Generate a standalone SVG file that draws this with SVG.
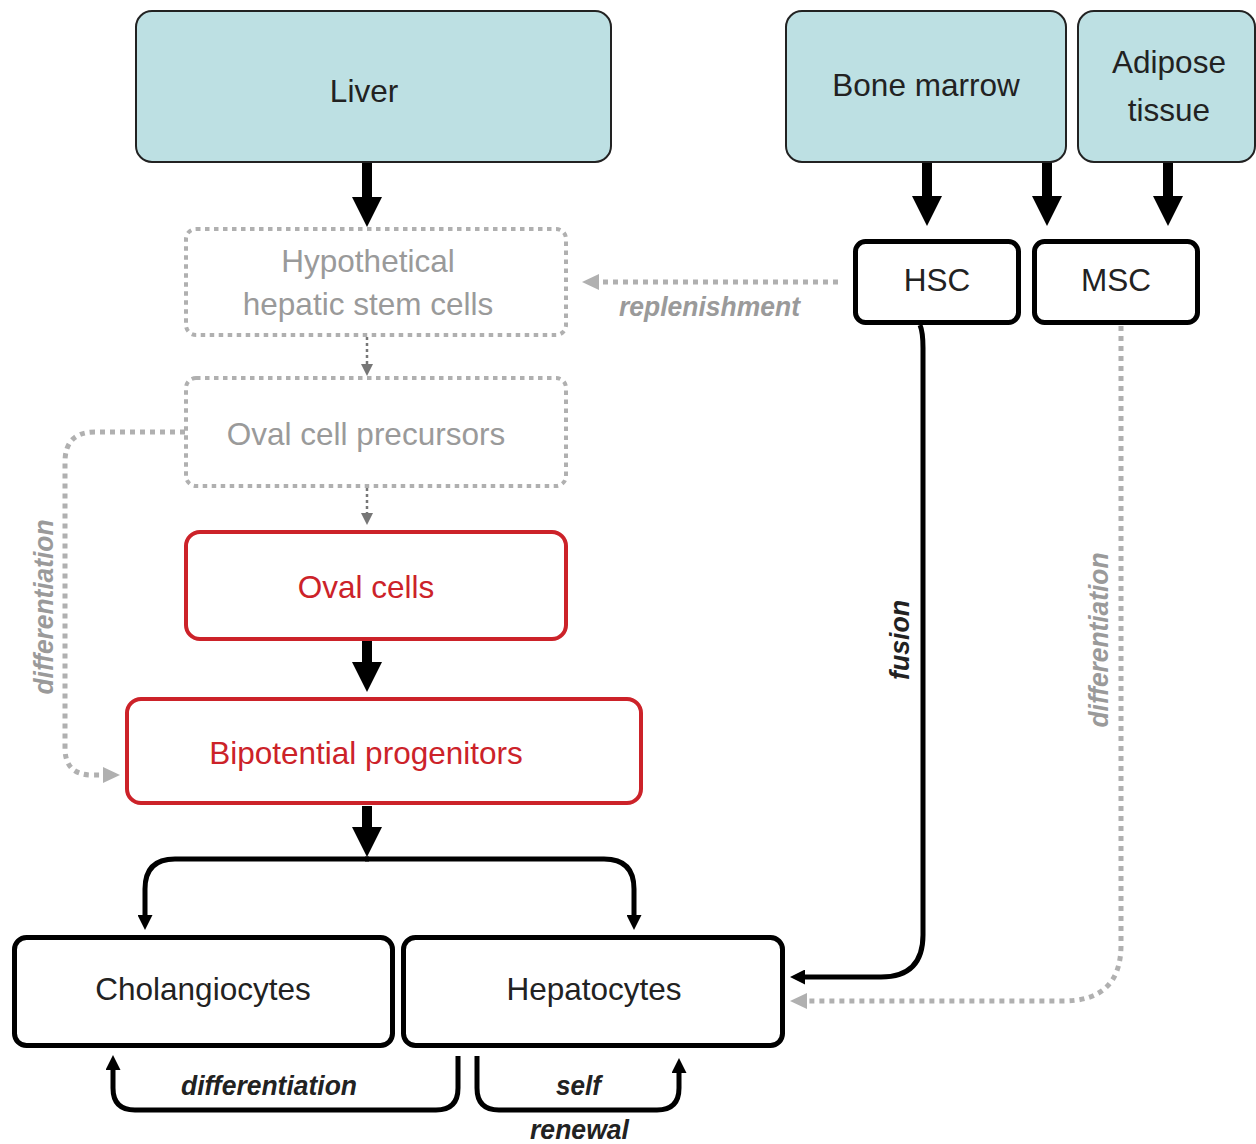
<svg xmlns="http://www.w3.org/2000/svg" width="1256" height="1144" viewBox="0 0 1256 1144">
<style>
text{font-family:"Liberation Sans",Arial,sans-serif;font-size:31.5px;text-anchor:middle}
.src{fill:#bde0e3;stroke:#222;stroke-width:2}
.dot{fill:none;stroke:#b0b0b0;stroke-width:4;stroke-dasharray:4.5 4.5}
.red{fill:#fff;stroke:#cc2229;stroke-width:4}
.blk{fill:#fff;stroke:#000;stroke-width:5}
.t{fill:#222}
.tg{fill:#9a9a9a}
.tr{fill:#cc2229}
.lab{font-weight:bold;font-style:italic;font-size:27px}
.thick{stroke:#000;stroke-width:10;fill:none}
.line{stroke:#000;stroke-width:5;fill:none}
.gdot{stroke:#b0b0b0;stroke-width:5;fill:none;stroke-dasharray:5 5}
.sdot{stroke:#777;stroke-width:2.5;fill:none;stroke-dasharray:3 3}
</style>
<defs>
<marker id="big" markerUnits="userSpaceOnUse" markerWidth="30" markerHeight="30" refX="1" refY="15" orient="auto"><path d="M0,0 L30,15 L0,30 z" fill="#000"/></marker>
<marker id="sm" markerUnits="userSpaceOnUse" markerWidth="15" markerHeight="15" refX="1" refY="7.5" orient="auto"><path d="M0,0 L15,7.5 L0,15 z" fill="#000"/></marker>
<marker id="gh" markerUnits="userSpaceOnUse" markerWidth="17" markerHeight="16" refX="1" refY="8" orient="auto"><path d="M0,0 L17,8 L0,16 z" fill="#b0b0b0"/></marker>
<marker id="dh" markerUnits="userSpaceOnUse" markerWidth="12" markerHeight="12" refX="1" refY="6" orient="auto"><path d="M0,0 L12,6 L0,12 z" fill="#777"/></marker>
</defs>

<g id="connectors">
<line class="thick" x1="367" y1="162" x2="367" y2="198" marker-end="url(#big)"/>
<line class="thick" x1="927" y1="162" x2="927" y2="197" marker-end="url(#big)"/>
<line class="thick" x1="1047" y1="162" x2="1047" y2="197" marker-end="url(#big)"/>
<line class="thick" x1="1168" y1="162" x2="1168" y2="197" marker-end="url(#big)"/>
<line class="sdot" x1="367" y1="337" x2="367" y2="365" marker-end="url(#dh)"/>
<line class="sdot" x1="367" y1="488" x2="367" y2="514" marker-end="url(#dh)"/>
<line class="thick" x1="367" y1="641" x2="367" y2="663" marker-end="url(#big)"/>
<line class="thick" x1="367" y1="806" x2="367" y2="828" marker-end="url(#big)"/>
<path class="line" d="M369,859 H175 Q145,859 145,889 V916" marker-end="url(#sm)"/>
<path class="line" d="M365,859 H604 Q634,859 634,889 V916" marker-end="url(#sm)"/>
<line class="gdot" x1="838" y1="282" x2="598" y2="282" marker-end="url(#gh)"/>
<path class="line" d="M920,325 Q923,332 923,348 V935 Q923,977 881,977 H804" marker-end="url(#sm)"/>
<path class="gdot" d="M1121,326 V945 Q1121,1001 1063,1001 H806" marker-end="url(#gh)"/>
<path class="gdot" d="M185,432 H95 Q65,432 65,462 V748 Q65,775 92,775 H104" marker-end="url(#gh)"/>
<path class="line" d="M458,1056 V1088 Q458,1110 436,1110 H135 Q113,1110 113,1088 V1069" marker-end="url(#sm)"/>
<path class="line" d="M477,1056 V1088 Q477,1110 499,1110 H657 Q679,1110 679,1088 V1072" marker-end="url(#sm)"/>
<text class="lab tg" x="709.5" y="316" textLength="181" lengthAdjust="spacingAndGlyphs">replenishment</text>
<text class="lab t" transform="translate(909,640) rotate(-90)" textLength="80" lengthAdjust="spacingAndGlyphs">fusion</text>
<text class="lab tg" transform="translate(1108,640) rotate(-90)" textLength="175" lengthAdjust="spacingAndGlyphs">differentiation</text>
<text class="lab tg" transform="translate(53,607) rotate(-90)" textLength="175" lengthAdjust="spacingAndGlyphs">differentiation</text>
<text class="lab t" x="269" y="1095" textLength="176" lengthAdjust="spacingAndGlyphs">differentiation</text>
<text class="lab t" x="578.5" y="1095" textLength="45" lengthAdjust="spacingAndGlyphs">self</text>
<text class="lab t" x="579.5" y="1139" textLength="99" lengthAdjust="spacingAndGlyphs">renewal</text>
</g>

<g id="liver"><rect class="src" x="136" y="11" width="475" height="151" rx="16"/><text class="t" x="364" y="102">Liver</text></g>
<g id="bone-marrow"><rect class="src" x="786" y="11" width="280" height="151" rx="16"/><text class="t" x="926" y="96">Bone marrow</text></g>
<g id="adipose"><rect class="src" x="1078" y="11" width="177" height="151" rx="16"/><text class="t" x="1169" y="73">Adipose</text><text class="t" x="1169" y="121">tissue</text></g>
<g id="hsc"><rect class="blk" x="855.5" y="241.5" width="163" height="81" rx="10"/><text class="t" x="937" y="291">HSC</text></g>
<g id="msc"><rect class="blk" x="1034.5" y="241.5" width="163" height="81" rx="10"/><text class="t" x="1116" y="291">MSC</text></g>
<g id="hypothetical"><rect class="dot" x="186" y="229" width="380" height="106" rx="10"/><text class="tg" x="368" y="272">Hypothetical</text><text class="tg" x="368" y="315">hepatic stem cells</text></g>
<g id="oval-precursors"><rect class="dot" x="186" y="378" width="380" height="108" rx="10"/><text class="tg" x="366" y="445">Oval cell precursors</text></g>
<g id="oval-cells"><rect class="red" x="186" y="532" width="380" height="107" rx="14"/><text class="tr" x="366" y="598">Oval cells</text></g>
<g id="bipotential"><rect class="red" x="127" y="699" width="514" height="104" rx="14"/><text class="tr" x="366" y="764">Bipotential progenitors</text></g>
<g id="cholangiocytes"><rect class="blk" x="14.5" y="937.5" width="378" height="108" rx="12"/><text class="t" x="203" y="1000">Cholangiocytes</text></g>
<g id="hepatocytes"><rect class="blk" x="403.5" y="937.5" width="379" height="108" rx="12"/><text class="t" x="594" y="1000">Hepatocytes</text></g>
</svg>
